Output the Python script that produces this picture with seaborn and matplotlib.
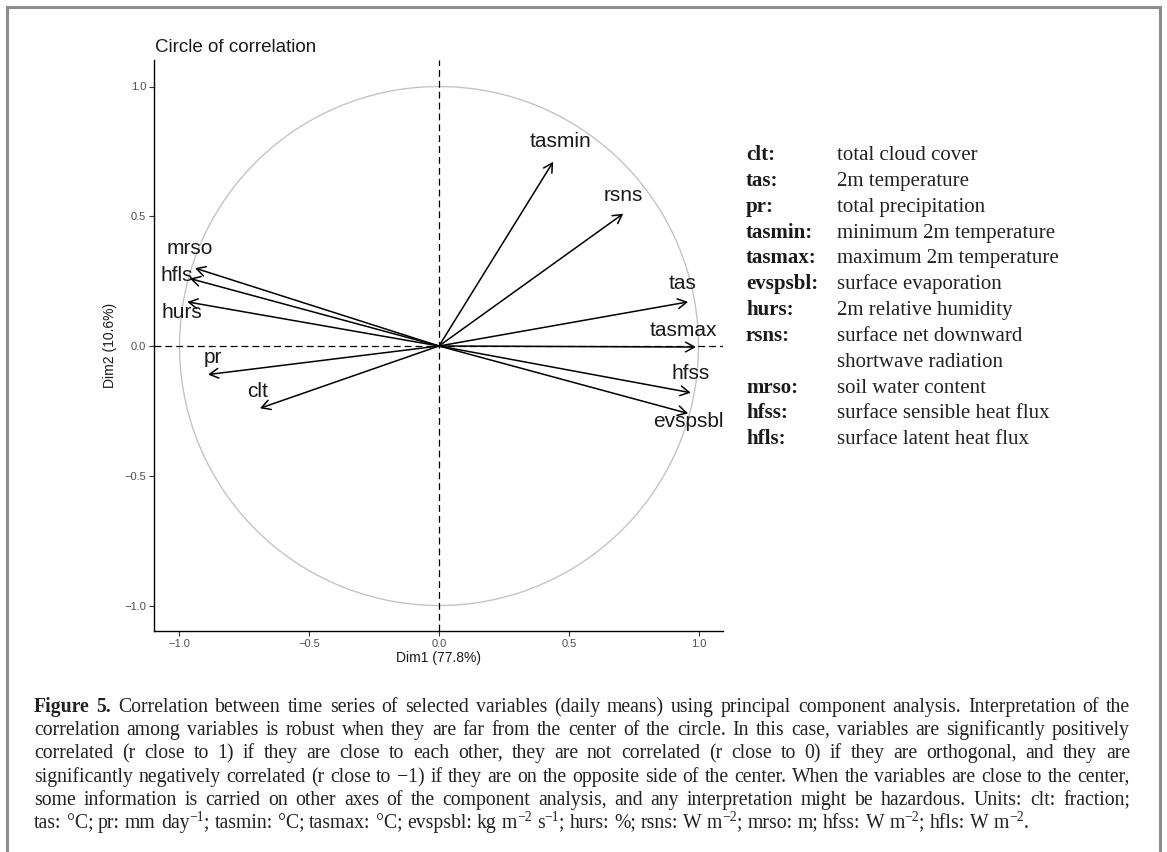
import re
import numpy as np
import pandas as pd
import matplotlib
matplotlib.use("Agg")
import matplotlib.pyplot as plt
from matplotlib.lines import Line2D
from matplotlib.font_manager import FontProperties
from matplotlib.backends.backend_agg import get_hinting_flag
import seaborn as sns

# ---------------- data ----------------
variables = ["tasmin", "rsns", "tas", "tasmax", "hfss", "evspsbl",
             "mrso", "hfls", "hurs", "pr", "clt"]
dim1 = [0.44, 0.71, 0.96, 0.99, 0.97, 0.96, -0.94, -0.96, -0.97, -0.89, -0.69]
dim2 = [0.71, 0.51, 0.17, -0.004, -0.18, -0.26, 0.30, 0.26, 0.17, -0.11, -0.24]

# label placement offsets from arrow tips (data units)
label_dx = [0.027, 0.00, -0.02, -0.05, 0.00, 0.00, -0.02, -0.05, -0.02, 0.02, -0.01]
label_dy = [0.078, 0.07, 0.07, 0.065, 0.075, -0.03, 0.075, 0.01, -0.04, 0.065, 0.065]

x_ticks = [-1.0, -0.5, 0.0, 0.5, 1.0]
y_ticks = [-1.0, -0.5, 0.0, 0.5, 1.0]
x_label = "Dim1 (77.8%)"
y_label = "Dim2 (10.6%)"
title = "Circle of correlation"

legend_keys = ["clt:", "tas:", "pr:", "tasmin:", "tasmax:", "evspsbl:", "hurs:",
               "rsns:", "", "mrso:", "hfss:", "hfls:"]
legend_desc = ["total cloud cover", "2m temperature", "total precipitation",
               "minimum 2m temperature", "maximum 2m temperature",
               "surface evaporation", "2m relative humidity",
               "surface net downward", "shortwave radiation",
               "soil water content", "surface sensible heat flux",
               "surface latent heat flux"]

caption_lines = [
    "Figure 5. Correlation between time series of selected variables (daily means) using principal component analysis. Interpretation of the",
    "correlation among variables is robust when they are far from the center of the circle. In this case, variables are significantly positively",
    "correlated (r close to 1) if they are close to each other, they are not correlated (r close to 0) if they are orthogonal, and they are",
    "significantly negatively correlated (r close to \u22121) if they are on the opposite side of the center. When the variables are close to the center,",
    "some information is carried on other axes of the component analysis, and any interpretation might be hazardous. Units: clt: fraction;",
    "tas: \u00b0C; pr: mm day^{\u22121}; tasmin: \u00b0C; tasmax: \u00b0C; evspsbl: kg m^{\u22122} s^{\u22121}; hurs: %; rsns: W m^{\u22122}; mrso: m; hfss: W m^{\u22122}; hfls: W m^{\u22122}.",
]
caption_bold_words = 2  # "Figure 5."

df = pd.DataFrame({"variable": variables, "Dim1": dim1, "Dim2": dim2,
                   "dx": label_dx, "dy": label_dy})

# ---------------- style ----------------
sns.set_theme(style="ticks")
plt.rcParams["font.family"] = ["Liberation Sans", "DejaVu Sans"]
plt.rcParams["axes.unicode_minus"] = True

W, H = 1167, 852
fig = plt.figure(figsize=(W / 100, H / 100), dpi=100)
fig.patch.set_facecolor("white")

ax_l, ax_r, ax_t, ax_b = 154, 723, 60, 631
ax = fig.add_axes([ax_l / W, 1 - ax_b / H, (ax_r - ax_l) / W, (ax_b - ax_t) / H])
ax.set_facecolor("white")

# circle
theta = np.linspace(0, 2 * np.pi, 361)
sns.lineplot(x=np.cos(theta), y=np.sin(theta), sort=False, estimator=None,
             color="#c4c4c4", linewidth=1.0, ax=ax, zorder=1)

ax.axhline(0, color="black", lw=0.9, ls=(0, (5.5, 3.2)), zorder=2)
ax.axvline(0, color="black", lw=0.9, ls=(0, (5.5, 3.2)), zorder=2)

for _, r in df.iterrows():
    ax.annotate("", xy=(r.Dim1, r.Dim2), xytext=(0, 0),
                arrowprops=dict(arrowstyle="->,head_length=0.45,head_width=0.25",
                                color="black", lw=1.1, mutation_scale=14,
                                shrinkA=0, shrinkB=0), zorder=3)
    ax.text(r.Dim1 + r.dx, r.Dim2 + r.dy, r.variable, ha="center", va="center",
            fontsize=15, color="#1a1a1a", zorder=4)

ax.set_xlim((ax_l - 439) / 259.5, (ax_r - 439) / 259.5)
ax.set_ylim((346 - ax_b) / 259.5, (346 - ax_t) / 259.5)
ax.set_xticks(x_ticks)
ax.set_yticks(y_ticks)
ax.set_xticklabels([f"{v:.1f}".replace("-", "\u2212") for v in x_ticks])
ax.set_yticklabels([f"{v:.1f}".replace("-", "\u2212") for v in y_ticks])
ax.tick_params(axis="both", length=3.5, width=0.8, color="#333333",
               labelsize=8, labelcolor="#4d4d4d", pad=2)
for s in ["top", "right"]:
    ax.spines[s].set_visible(False)
for s in ["left", "bottom"]:
    ax.spines[s].set_color("black")
    ax.spines[s].set_linewidth(1.0)
ax.grid(False)

ax.set_xlabel(x_label, fontsize=10, color="#1a1a1a")
ax.set_ylabel(y_label, fontsize=10, color="#1a1a1a")
ax.xaxis.set_label_coords(0.5, (ax_b - 658) / (ax_b - ax_t))
ax.xaxis.label.set_va("center")
ax.yaxis.set_label_coords((110 - ax_l) / (ax_r - ax_l), 0.5)
ax.yaxis.label.set_va("center")

fig.text(155 / W, 1 - 47 / H, title, ha="left", va="center", fontsize=13.5,
         color="#1a1a1a")

# ---------------- helpers: pixel-consistent baselines ----------------
serif = ["Liberation Serif", "DejaVu Serif"]
fig.canvas.draw()
renderer = fig.canvas.get_renderer()
Hb = fig.bbox.height


def fig_y_for_baseline(s, size, weight, row):
    """figure y so that the rendered glyphs of s sit on integer pixel row `row`."""
    fp = FontProperties(family=serif, size=size, weight=weight)
    font = renderer._prepare_font(fp)
    font.set_text(s, 0, flags=get_hinting_flag())
    w, h = font.get_width_height()
    d = font.get_descent()
    A = (h - d) / 64.0
    D = d / 64.0
    yb = row + np.floor(A + D) - np.floor(A) - D
    return (Hb - yb) / Hb


def put_text(x_px, row, s, size, weight="normal", color="#222222"):
    y = fig_y_for_baseline(s, size, weight, row)
    return fig.text(x_px / W, y, s, ha="left", va="baseline", fontsize=size,
                    fontweight=weight, family=serif, color=color)


def measure(s, size, weight="normal"):
    t = fig.text(0, 0, s, fontsize=size, fontweight=weight, family=serif)
    w = t.get_window_extent(renderer).width
    t.remove()
    return w


# ---------------- side legend ----------------
row_y0, row_step = 160, 25.85
for i, (k, d) in enumerate(zip(legend_keys, legend_desc)):
    row = int(round(row_y0 + i * row_step))
    if k:
        put_text(746, row, k, 15, "bold", "#1a1a1a")
    put_text(837, row, d, 15, "normal", "#222222")

# ---------------- caption (justified word by word) ----------------
SUP_SCALE = 0.7


def split_word(w):
    """split a word into (text, is_superscript) pieces using ^{...} markup."""
    parts = re.split(r"\^\{([^}]*)\}", w)
    return [(p, i % 2 == 1) for i, p in enumerate(parts) if p]


words_per_line = []
for li, line in enumerate(caption_lines):
    ws = line.split(" ")
    words_per_line.append([(w, "bold" if (li == 0 and wi < caption_bold_words) else "normal")
                           for wi, w in enumerate(ws)])


def word_width(w, wt, size):
    tot = 0.0
    for p, sup in split_word(w):
        tot += measure(p, size * SUP_SCALE if sup else size, wt)
    return tot


cap_x0, cap_x1 = 34, 1130
cap_base0, cap_step = 712, 23.2
target = cap_x1 - cap_x0

size = 14.0
for _ in range(3):
    sp = measure("a a", size) - measure("aa", size)
    widest = max(sum(word_width(w, wt, size) for w, wt in wl) + sp * (len(wl) - 1)
                 for wl in words_per_line[:-1])
    size *= target * 0.99 / widest

sp = measure("a a", size) - measure("aa", size)
sup_raise = int(round(0.33 * size * 100 / 72))
for li, wl in enumerate(words_per_line):
    widths = [word_width(w, wt, size) for w, wt in wl]
    if li < len(words_per_line) - 1:
        gap = (target - sum(widths)) / (len(wl) - 1)
    else:
        gap = sp
    x = cap_x0
    row = int(round(cap_base0 + li * cap_step))
    for (w, wt), wd in zip(wl, widths):
        xx = x
        for p, sup in split_word(w):
            psize = size * SUP_SCALE if sup else size
            put_text(xx, row - sup_raise if sup else row, p, psize, wt)
            xx += measure(p, psize, wt)
        x += wd + gap

# ---------------- outer frame ----------------
fx0, fy0, fx1 = 7, 7, 1160
frame = Line2D([fx0 / W, fx0 / W, fx1 / W, fx1 / W],
               [0, 1 - fy0 / H, 1 - fy0 / H, 0],
               transform=fig.transFigure, color="#8c8c8c", lw=2.2,
               solid_joinstyle="miter")
fig.add_artist(frame)

fig.savefig("out.png", dpi=100, facecolor="white")
